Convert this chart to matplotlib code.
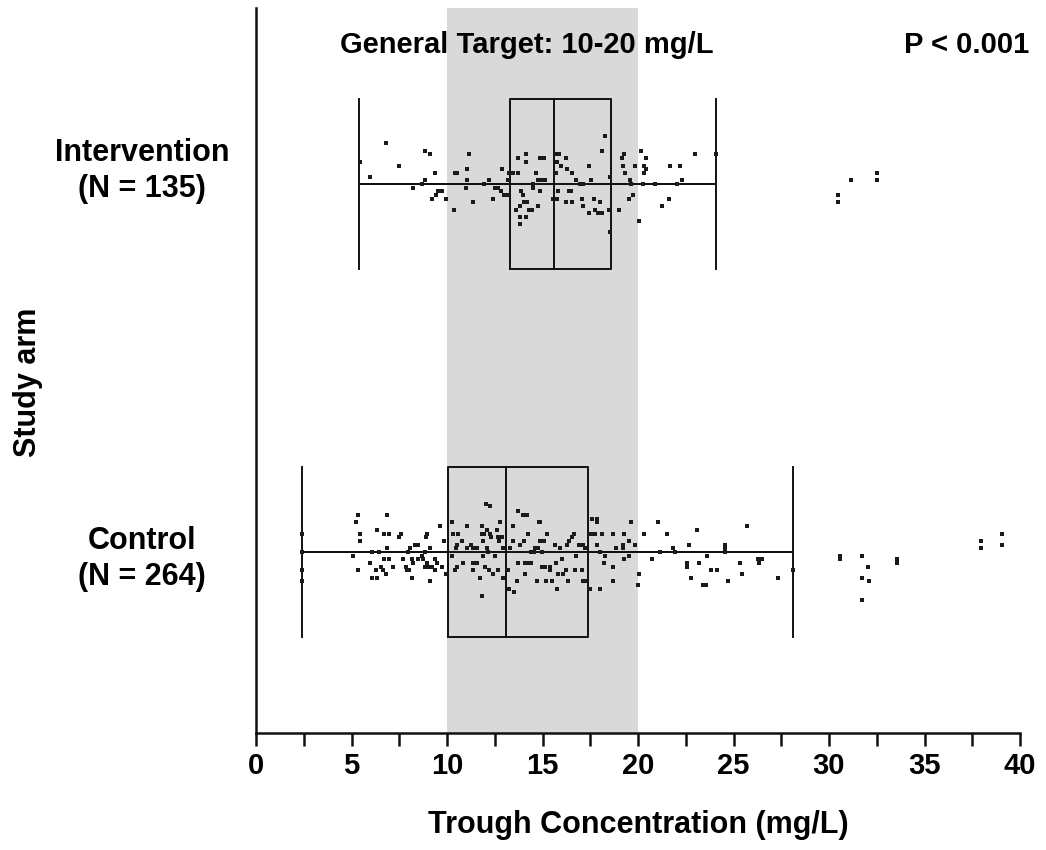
import matplotlib
matplotlib.use('Agg')
import matplotlib.pyplot as plt
import matplotlib.transforms as mtransforms

plt.rcParams['font.family'] = ['Liberation Sans', 'DejaVu Sans']
plt.rcParams['font.weight'] = 'bold'

# ---------------- data ----------------
arm_labels = ['Control\n(N = 264)', 'Intervention\n(N = 135)']
whislo = [2.4, 5.4]
q1 = [10.05, 13.3]
median = [13.1, 15.6]
q3 = [17.4, 18.6]
whishi = [28.1, 24.1]
target_range = (10, 20)
target_text = 'General Target: 10-20 mg/L'
p_text = 'P < 0.001'
x_ticks = [0, 5, 10, 15, 20, 25, 30, 35, 40]

# Intervention points: concentration and vertical jitter (category units)
int_x = [5.45, 5.97, 6.81, 7.49, 8.22, 8.69, 8.85, 8.85, 9.11, 9.21,
         9.37, 9.42, 9.53, 9.74, 9.95, 10.37, 10.42, 10.52, 10.99, 11.05,
         11.05, 11.15, 11.36, 11.94, 12.20, 12.41, 12.51, 12.67, 12.83, 12.88,
         12.98, 13.19, 13.19, 13.25, 13.46, 13.72, 13.72, 13.87, 14.14, 14.14,
         13.98, 14.03, 14.19, 13.61, 13.82, 13.82, 14.14, 13.82, 14.29,
         14.66, 14.87, 15.03, 15.08, 14.50, 14.76, 14.92, 15.03, 15.13, 14.87,
         14.50, 14.76, 14.45, 15.71, 15.86, 15.76, 15.97, 16.23, 15.71, 16.28,
         16.54, 16.75, 16.96, 17.12, 17.43, 17.54, 15.81, 15.55, 15.76, 16.39,
         16.49, 16.23, 16.54, 17.07, 17.12, 17.70, 18.01, 17.75, 17.43, 17.91,
         18.12, 18.12, 18.27, 18.53, 18.48, 18.53, 19.01, 19.16, 19.27, 19.21,
         19.32, 19.58, 19.63, 19.84, 19.74, 19.53, 20.16, 20.42, 20.31, 20.42,
         20.31, 20.26, 20.05, 20.89, 21.68, 21.62, 21.26, 22.20, 22.04, 22.30,
         22.98, 24.08,
         31.15, 30.47, 30.47, 32.51, 32.51]
int_j = [0.06, 0.02, 0.11, 0.05, -0.01, 0.00, 0.01, 0.09, 0.08, -0.04,
         0.03, -0.03, -0.02, -0.02, -0.04, -0.07, 0.03, 0.03, -0.01, 0.04,
         0.01, 0.08, -0.05, 0.00, 0.01, -0.04, -0.01, -0.01, -0.02, 0.04,
         -0.03, -0.03, 0.01, 0.03, 0.03, 0.03, 0.07, -0.02, 0.08, 0.06,
         -0.03, -0.05, -0.05, -0.07, -0.06, -0.09, -0.09, -0.11, -0.07,
         0.03, 0.07, 0.07, 0.07, 0.00, 0.01, 0.01, 0.01, 0.01, -0.02,
         -0.01, -0.06, -0.07, 0.08, 0.08, 0.06, 0.05, 0.07, 0.03, 0.04,
         0.03, 0.01, 0.00, 0.00, 0.05, 0.01, -0.02, -0.04, -0.04, -0.02,
         -0.02, -0.05, -0.05, -0.04, -0.06, -0.04, -0.05, -0.07, -0.08, -0.08,
         -0.08, 0.09, 0.13, 0.02, -0.07, -0.13, -0.07, 0.07, 0.08, 0.05,
         0.03, 0.01, 0.00, 0.05, -0.03, -0.04, 0.09, 0.07, 0.05, 0.04,
         0.03, 0.00, -0.10, 0.00, 0.05, -0.04, -0.06, 0.05, 0.00, 0.01,
         0.08, 0.08,
         0.01, -0.03, -0.05, 0.03, 0.01]

# Control points
ctrl_x = [2.41, 2.41, 2.41, 2.41, 5.34, 5.24, 6.86, 5.45, 5.45, 6.34,
          6.70, 6.96, 7.59, 7.49, 5.08, 5.34, 5.97, 6.07, 6.44, 6.70,
          6.86, 6.96, 6.54, 6.65, 6.28, 6.07, 6.34, 6.81, 7.17, 7.70,
          7.85, 7.91, 7.96, 8.06, 8.17, 8.22, 8.01, 8.17, 8.32, 8.48,
          8.48, 8.69, 8.74, 8.90, 8.95, 8.85, 8.95, 9.11, 8.85, 9.01,
          9.21, 9.37, 9.48, 9.37, 9.11, 9.74, 9.63, 9.84, 9.95,
          10.26, 10.31, 10.58, 10.79, 10.52, 10.47, 10.26, 10.84, 10.42, 10.52,
          11.05, 11.05, 11.26, 11.36, 11.36, 11.36, 11.57, 11.57, 11.73, 11.83,
          11.83, 11.94, 11.88, 11.88, 12.09, 12.09, 12.15, 12.25, 12.30, 11.99,
          12.20, 12.41, 12.62, 12.67, 12.72, 12.77, 12.51, 12.67, 12.93, 12.88,
          12.93, 11.83, 12.04, 12.25, 13.25, 13.51, 13.19, 13.30, 13.46, 13.46,
          13.66, 13.72, 13.72, 13.98, 14.19, 13.82, 14.03, 14.24, 14.08, 14.29,
          14.40, 14.08, 14.40, 14.55, 14.61, 14.71, 14.76, 14.82, 14.87, 14.87,
          14.97, 14.97, 15.13, 15.24, 15.08, 15.18, 15.39, 15.39, 15.50, 15.71,
          15.65, 15.81, 15.76, 16.02, 16.07, 15.92, 16.28, 16.23, 16.34, 16.39,
          16.54, 16.65, 16.75, 16.70, 16.91, 17.12, 17.07, 17.12, 17.23, 17.23,
          17.49, 17.59, 17.85, 17.85, 17.64, 17.75, 17.85, 18.12, 18.01, 18.27,
          18.22, 17.49, 18.01, 18.69, 18.85, 18.69, 18.69,
          19.21, 19.21, 19.27, 19.53, 19.63, 19.84, 19.27, 19.53, 20.05, 20.00,
          20.31, 20.73, 21.05, 21.15, 21.52, 21.83, 21.94, 22.57, 22.57, 22.67,
          22.77, 23.09, 23.19, 23.40, 23.56, 23.61, 23.82, 24.14, 24.55, 24.55,
          24.55, 24.71, 25.34, 25.45, 25.71, 26.28, 26.34, 26.49, 27.33, 28.10,
          30.58, 30.58, 31.73, 32.04, 31.73, 32.09, 31.73, 33.56, 33.56, 37.96,
          37.96, 39.06, 39.06]
ctrl_j = [0.05, 0.00, -0.05, -0.08, 0.10, 0.08, 0.10, 0.05, 0.03, 0.06,
          0.05, 0.05, 0.05, 0.04, -0.01, -0.05, -0.03, 0.00, 0.00, -0.02,
          0.01, -0.02, -0.04, -0.05, -0.05, -0.07, -0.07, -0.06, -0.04, -0.02,
          -0.04, -0.05, 0.00, 0.01, -0.02, -0.03, -0.05, -0.07, 0.02, 0.02,
          -0.02, -0.01, -0.02, 0.04, 0.05, 0.00, -0.03, 0.01, -0.04, -0.04,
          -0.04, -0.02, -0.03, -0.05, -0.08, -0.04, 0.07, 0.03, -0.06,
          0.08, 0.05, 0.05, 0.03, 0.02, 0.01, -0.01, -0.03, -0.05, -0.04,
          0.01, 0.07, 0.02, 0.01, -0.03, -0.05, 0.01, -0.03, -0.07, 0.07,
          0.05, 0.05, 0.03, -0.01, 0.06, 0.01, 0.00, 0.05, 0.04, -0.04,
          -0.05, -0.06, 0.06, 0.04, 0.03, 0.08, -0.01, -0.05, 0.01, 0.04,
          -0.07, -0.12, 0.13, 0.125, -0.10, -0.11, -0.05, 0.01, 0.07, 0.03,
          -0.08, -0.03, 0.11, 0.10, 0.10, 0.02, 0.03, 0.05, -0.03, -0.03,
          -0.03, -0.06, 0.00, 0.00, 0.01, -0.08, 0.01, 0.08, 0.08, 0.03,
          0.00, -0.04, -0.04, 0.05, 0.03, -0.08, -0.04, -0.05, -0.08, -0.03,
          0.02, -0.06, -0.10, -0.02, -0.06, 0.01, 0.02, -0.05, -0.08, 0.03,
          0.04, 0.05, -0.01, -0.05, 0.02, 0.02, -0.05, -0.08, -0.08, 0.01,
          0.05, 0.09, 0.09, 0.08, 0.05, 0.05, 0.02, 0.05, 0.00, -0.01,
          -0.03, -0.10, -0.10, 0.05, 0.01, -0.04, -0.08,
          0.02, 0.01, 0.05, 0.03, 0.08, 0.02, -0.02, -0.01, -0.06, -0.09,
          0.05, -0.02, 0.08, 0.00, 0.05, 0.01, 0.00, -0.03, -0.04, 0.02,
          -0.07, 0.06, -0.03, -0.09, -0.09, -0.01, -0.05, -0.05, 0.02, 0.00,
          0.01, -0.08, -0.03, -0.06, 0.07, -0.02, -0.03, -0.02, -0.07, -0.05,
          -0.01, -0.02, -0.01, -0.04, -0.07, -0.08, -0.13, -0.02, -0.03, 0.03,
          0.01, 0.05, 0.02]

# ---------------- figure ----------------
fig = plt.figure(figsize=(10.46, 8.5), dpi=100)
ax = fig.add_axes([256 / 1046, 1 - 733 / 850, 764 / 1046, 725 / 850])

positions = [0, 1]
ax.set_xlim(0, 40)
ax.set_ylim(-0.492, 1.478)

ax.axvspan(target_range[0], target_range[1], color='#d9d9d9', zorder=0, lw=0)

stats = []
for i in range(2):
    stats.append(dict(whislo=whislo[i], q1=q1[i], med=median[i],
                      q3=q3[i], whishi=whishi[i], fliers=[]))
lw = 1.4
ax.bxp(stats, positions=positions, widths=0.462, capwidths=0.462,
       orientation='horizontal', showfliers=False, patch_artist=False,
       boxprops=dict(color='#111111', lw=lw),
       whiskerprops=dict(color='#111111', lw=lw),
       capprops=dict(color='#111111', lw=lw),
       medianprops=dict(color='#111111', lw=lw),
       manage_ticks=False, zorder=3)
ax.hlines(positions, whislo, whishi, color='#111111', lw=lw, zorder=3)

ax.scatter(ctrl_x, [positions[0] + j for j in ctrl_j], marker='s', s=8,
           color='#1a1a1a', lw=0, zorder=4)
ax.scatter(int_x, [positions[1] + j for j in int_j], marker='s', s=8,
           color='#1a1a1a', lw=0, zorder=4)

# axes styling
for s in ['top', 'right']:
    ax.spines[s].set_visible(False)
ax.spines['left'].set_linewidth(1.8)
ax.spines['bottom'].set_linewidth(1.8)
ax.spines['left'].set_color('#111111')
ax.spines['bottom'].set_color('#111111')
ax.set_yticks([])
ax.set_xticks(x_ticks)
ax.set_xticks([t + 2.5 for t in x_ticks[:-1]], minor=True)
ax.tick_params(axis='x', which='both', length=9, width=1.8, color='#111111',
               labelsize=21, pad=5)
for lab in ax.get_xticklabels():
    lab.set_fontweight('bold')

ax.set_xlabel('Trough Concentration (mg/L)', fontsize=22, fontweight='bold',
              labelpad=21)
fig.text(28 / 1046, 1 - 382 / 850, 'Study arm', rotation=90, fontsize=22,
         fontweight='bold', ha='center', va='center')

trans = mtransforms.blended_transform_factory(ax.transAxes, ax.transData)
for pos, lab in zip(positions, arm_labels):
    ax.text(-0.149, pos - 0.02 if pos == 0 else pos + 0.035, lab, transform=trans,
            ha='center', va='center', multialignment='center', fontsize=22,
            fontweight='bold', linespacing=1.25)

ax.text(14.2, 1.378, target_text, ha='center', va='center', fontsize=21,
        fontweight='bold')
ax.text(40.5, 1.378, p_text, ha='right', va='center', fontsize=21,
        fontweight='bold', clip_on=False)

fig.savefig('out.png', dpi=100)
